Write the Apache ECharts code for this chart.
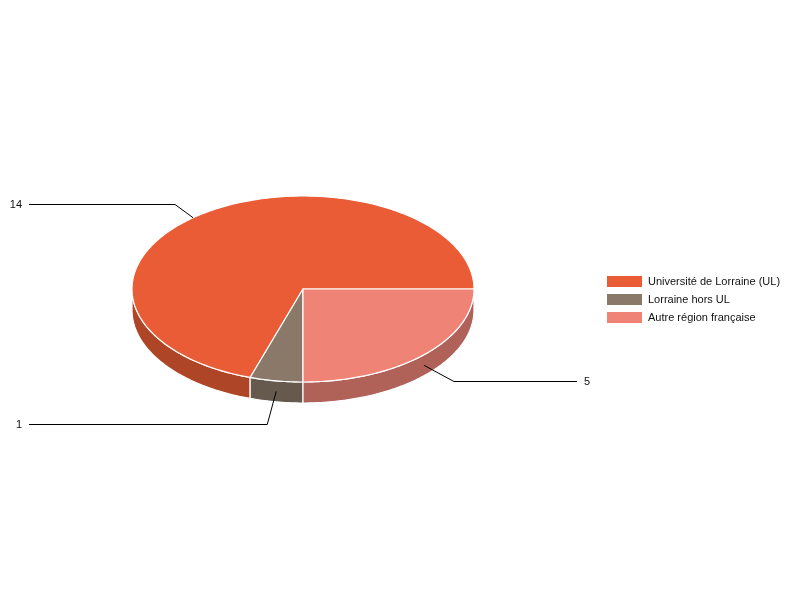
<!DOCTYPE html>
<html>
<head>
<meta charset="utf-8">
<style>html,body{margin:0;padding:0;background:#fff}#c{width:800px;height:600px}</style>
<script src="https://cdn.jsdelivr.net/npm/echarts@6/dist/echarts.min.js"></script>
</head>
<body>
<div id="c"></div>
<script>
const categories = ['Université de Lorraine (UL)', 'Lorraine hors UL', 'Autre région française'];
const values = [14, 1, 5];
const topColors = ['#EA5C36', '#8A7969', '#EE8376'];
const sideColors = ['#AE4527', '#665A4E', '#B06258'];

const FONT = 'Liberation Sans, Arial, sans-serif';
const total = values.reduce((a, b) => a + b, 0);
const DEPTH = 21 / 93;               // wall height, in units of the vertical radius
const ARC_STEP = 1;                  // degrees between outline points
// Leader-line layout per slice: angle nudge, elbow offset from the anchor (px), label side
const leaders = [
  { shift: 4, dx: -18, dy: -14, side: 'left', onWall: false },
  { shift: 0, dx: -9, dy: 33, side: 'left', onWall: true },
  { shift: 0, dx: 30, dy: 16, side: 'right', onWall: true }
];
const LEFT_END = 29, RIGHT_END = 577, LEFT_TEXT = 22, RIGHT_TEXT = 584;

// Angles run counter-clockwise from 3 o'clock, in value order.
function sliceAngles(i) {
  let before = 0;
  for (let k = 0; k < i; k++) before += values[k];
  return [before / total * 360, (before + values[i]) / total * 360];
}
function rim(api, deg, drop) {
  const r = deg * Math.PI / 180;
  return api.coord([Math.cos(r), Math.sin(r) - (drop || 0)]);
}
function arc(api, a, b, drop) {
  const pts = [];
  for (let d = a; d < b; d += ARC_STEP) pts.push(rim(api, d, drop));
  pts.push(rim(api, b, drop));
  return pts;
}

function renderSlice(i, params, api) {
  const [a0, a1] = sliceAngles(i);
  const children = [];
  // Visible wall: the part of the slice on the front half (180..360 degrees).
  const w0 = Math.max(a0, 180), w1 = Math.min(a1, 360);
  if (w1 > w0) {
    const upper = arc(api, w0, w1, 0);
    const lower = arc(api, w0, w1, DEPTH).reverse();
    children.push({
      type: 'polygon', z2: 1,
      shape: { points: upper.concat(lower) },
      style: { fill: sideColors[i], stroke: '#fff', lineWidth: 1.2, lineJoin: 'round' }
    });
  }
  // Top face.
  children.push({
    type: 'polygon', z2: 2,
    shape: { points: [api.coord([0, 0])].concat(arc(api, a0, a1, 0)) },
    style: { fill: topColors[i], stroke: '#fff', lineWidth: 1.2, lineJoin: 'round' }
  });
  // Leader and value label.
  const L = leaders[i];
  const anchor = rim(api, (a0 + a1) / 2 + L.shift, L.onWall ? DEPTH / 2 : 0);
  const elbow = [anchor[0] + L.dx, Math.round(anchor[1] + L.dy) + 0.5];
  const endX = L.side === 'left' ? LEFT_END : RIGHT_END;
  children.push({
    type: 'polyline', z2: 3,
    shape: { points: [anchor, elbow, [endX, elbow[1]]] },
    style: { fill: 'none', stroke: '#000', lineWidth: 1 }
  });
  children.push({
    type: 'text', z2: 3,
    style: {
      x: L.side === 'left' ? LEFT_TEXT : RIGHT_TEXT, y: elbow[1],
      text: String(api.value(0)), fill: '#111', font: '11px ' + FONT,
      align: L.side === 'left' ? 'right' : 'left', verticalAlign: 'middle'
    }
  });
  return { type: 'group', children };
}

const chart = echarts.init(document.getElementById('c'), null, { renderer: 'canvas' });
chart.setOption({
  animation: false,
  backgroundColor: '#fff',
  grid: { left: 132, top: 196, width: 342, height: 186 },
  xAxis: { type: 'value', min: -1, max: 1, show: false },
  yAxis: { type: 'value', min: -1, max: 1, show: false },
  legend: {
    left: 607, top: 276, orient: 'vertical', padding: 0,
    itemWidth: 35, itemHeight: 11, itemGap: 7, selectedMode: false,
    icon: 'rect',
    textStyle: { fontFamily: FONT, fontSize: 11, color: '#111', padding: [2, 0, 0, 1] },
    data: categories
  },
  series: categories.map((name, i) => ({
    type: 'custom', name, coordinateSystem: 'cartesian2d',
    clip: false, silent: true,
    itemStyle: { color: topColors[i] },
    encode: { x: 0 },
    data: [[values[i]]],
    renderItem: (params, api) => renderSlice(i, params, api)
  }))
});
</script>
</body>
</html>
